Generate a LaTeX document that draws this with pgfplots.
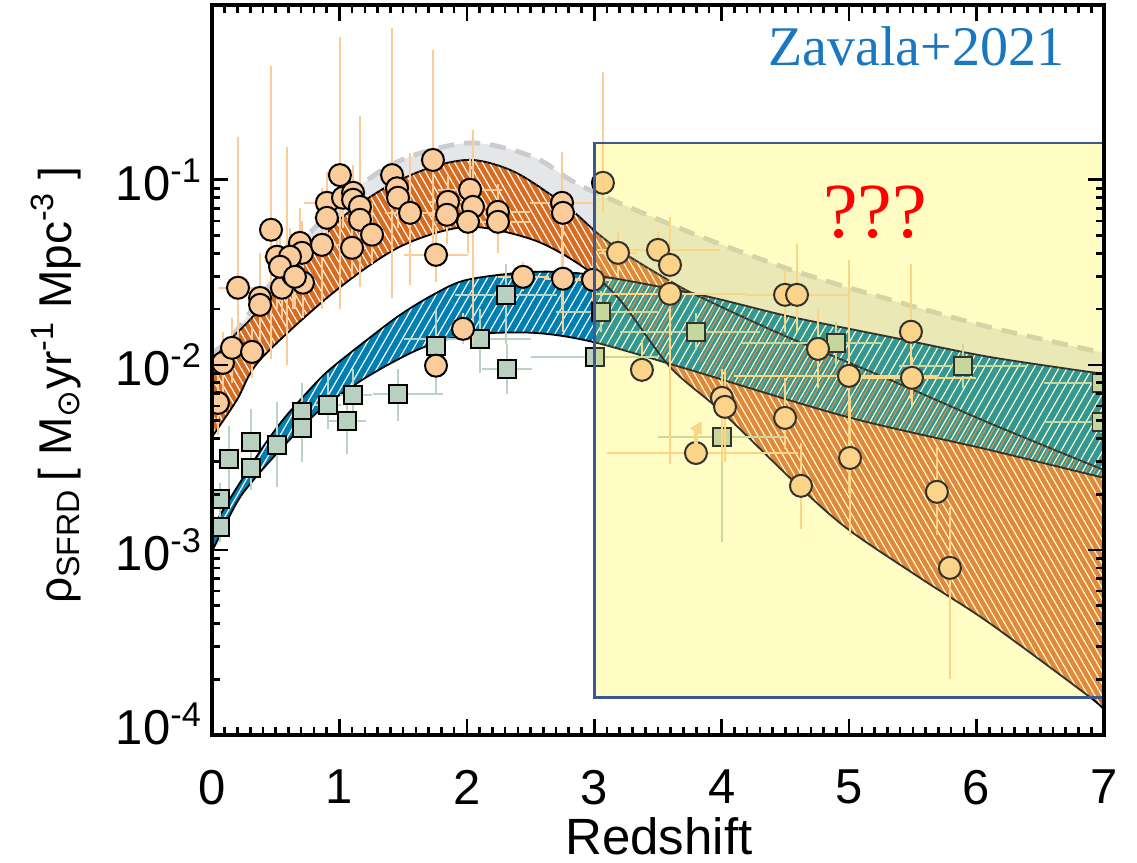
\documentclass[border=0pt]{standalone}
\usepackage{fontspec}
\setmainfont{Liberation Sans}
\newfontfamily\timesfont{Liberation Serif}
\newfontfamily\symbfont{DejaVu Sans}
\usepackage{pgfplots}
\pgfplotsset{compat=1.18}
\usepackage{pgfplotstable}
\usepgfplotslibrary{fillbetween}
\usetikzlibrary{patterns.meta}

\definecolor{bandorange}{RGB}{216,108,32}
\definecolor{bandblue}{RGB}{0,128,178}
\definecolor{bandgrey}{RGB}{229,230,232}
\definecolor{dashgrey}{RGB}{204,204,208}
\definecolor{peach}{RGB}{250,204,156}
\definecolor{peacherr}{RGB}{250,205,152}
\definecolor{sage}{RGB}{184,208,192}
\definecolor{sageerr}{RGB}{186,211,195}
\definecolor{boxyellow}{RGB}{255,253,188}
\definecolor{boxtint}{RGB}{255,253,225}
\definecolor{boxblue}{RGB}{58,88,150}
\definecolor{zavblue}{RGB}{26,118,190}

% Model envelopes (redshift, SFRD)
\pgfplotstableread{
z y
0    0.0118
0.165 0.0145
0.77 0.0518
1.37 0.117
2.0  0.158
2.52 0.133
2.91 0.0917
3.75 0.052
4.54 0.0327
5.32 0.0225
6.1  0.016
7    0.0116
}\greyU
\pgfplotstableread{
z y
0    0.0100
0.1  0.0128
0.28 0.0170
0.47 0.0239
0.71 0.0360
1.0  0.0608
1.37 0.0917
1.73 0.1175
2.05 0.128
2.39 0.109
2.79 0.0714
3.02 0.0518
3.23 0.0403
3.62 0.0277
3.83 0.0233
4.46 0.0147
5.32 0.0083
6.1  0.00485
7    0.0027
}\orangeU
\pgfplotstableread{
z y
0    0.00408
0.196 0.00647
0.377 0.01064
0.95 0.0245
1.475 0.0435
2.0  0.0557
2.52 0.0474
2.91 0.0339
3.2  0.0225
3.594 0.00975
4.01 0.0055
4.61 0.00219
5.0  0.00128
5.58 0.000689
6.1  0.000403
6.89 0.00016
7    0.000136
}\orangeL
\pgfplotstableread{
z y
0    0.00128
0.086 0.00164
0.243 0.00245
0.4  0.0036
0.557 0.00505
0.714 0.00671
0.902 0.00916
1.216 0.01365
1.475 0.0186
1.734 0.0239
2.0  0.0288
2.52 0.0318
2.99 0.0306
3.83 0.0239
4.54 0.0182
5.32 0.01416
6.1  0.01104
7    0.00893
}\blueU
\pgfplotstableread{
z y
0    0.00098
0.1  0.00135
0.243 0.00203
0.534 0.00347
0.848 0.00571
1.216 0.00861
1.63 0.0122
2.0  0.0145
2.52 0.0149
2.99 0.0133
3.75 0.0094
4.98 0.00524
6.1  0.00347
7    0.00245
}\blueL

% UV/optical estimates
\pgfplotstableread{
z y zm zp ylo yhi
0.047 0.00623 0.04 0.05 0.0042 0.0090
0.086 0.01025 0.05 0.05 0.0070 0.0150
0.157 0.01236 0.05 0.05 0.0080 0.0180
0.314 0.01175 0.05 0.10 0.0085 0.0160
0.204 0.0261 0.16 0.18 0.0110 0.170
0.463 0.0537 0.05 0.05 0.0107 0.41
0.377 0.0230 0.08 0.08 0.0140 0.040
0.377 0.0211 0.08 0.08 0.0120 0.035
0.51 0.0384 0.10 0.10 0.020 0.060
0.549 0.0261 0.05 0.05 0.018 0.040
0.589 0.0335 0.08 0.08 0.010 0.150
0.636 0.0306 0.05 0.05 0.020 0.045
0.69 0.0456 0.10 0.10 0.030 0.070
0.706 0.0403 0.10 0.10 0.028 0.060
0.714 0.0278 0.05 0.05 0.018 0.040
0.612 0.0384 0.05 0.05 0.025 0.055
0.534 0.0339 0.05 0.05 0.022 0.050
0.651 0.0299 0.05 0.05 0.020 0.045
0.863 0.0445 0.15 0.15 0.020 0.090
0.902 0.0751 0.18 0.18 0.050 0.110
0.902 0.0623 0.10 0.10 0.040 0.090
1.004 0.106 0.08 0.08 0.020 0.59
1.028 0.080 0.15 0.15 0.055 0.115
1.099 0.0429 0.10 0.10 0.030 0.060
1.107 0.0851 0.10 0.10 0.060 0.120
1.107 0.078 0.10 0.10 0.055 0.110
1.161 0.0714 0.10 0.10 0.0263 0.22
1.161 0.0608 0.10 0.10 0.045 0.085
1.256 0.0505 0.10 0.10 0.035 0.075
1.413 0.106 0.10 0.10 0.023 0.66
1.452 0.090 0.10 0.10 0.065 0.125
1.46 0.080 0.10 0.10 0.055 0.115
1.554 0.0663 0.20 0.20 0.027 0.14
1.734 0.128 0.10 0.10 0.034 0.50
1.758 0.0393 0.25 0.25 0.028 0.055
1.758 0.0099 0.05 0.05 0.0085 0.0115
1.852 0.076 0.15 0.15 0.055 0.105
1.844 0.0647 0.15 0.15 0.045 0.090
2.025 0.0883 0.25 0.25 0.060 0.130
2.048 0.0714 0.25 0.25 0.013 0.186
2.009 0.0593 0.25 0.25 0.040 0.085
2.244 0.0671 0.25 0.25 0.045 0.095
2.244 0.0593 0.25 0.25 0.040 0.085
2.441 0.0299 0.20 0.20 0.025 0.036
2.747 0.0751 0.25 0.25 0.0206 0.142
2.754 0.0663 0.10 0.10 0.050 0.085
2.754 0.0292 0.15 0.15 0.0150 0.045
2.99 0.0288 0.15 0.15 0.022 0.038
1.97 0.01566 0.05 0.05 0.013 0.019
3.068 0.0963 0.05 0.05 0.066 0.38
3.186 0.0403 0.15 0.15 0.030 0.052
3.5 0.0418 0.48 0.49 0.034 0.052
3.594 0.0347 0.10 0.10 0.028 0.044
3.594 0.0242 0.60 0.60 0.0029 0.063
3.374 0.0094 0.05 0.05 0.0080 0.0137
4.497 0.0239 0.05 0.05 0.015 0.033
4.591 0.0239 0.40 0.40 0.015 0.045
4.756 0.0122 0.05 0.05 0.0075 0.020
4.999 0.00872 0.90 0.70 0.00203 0.037
5.485 0.0151 0.05 0.05 0.0065 0.035
5.493 0.00851 0.50 0.50 0.006 0.011
4.002 0.00663 0.05 0.05 0.0030 0.0095
4.026 0.00593 0.05 0.05 0.0030 0.0095
4.497 0.00517 0.05 0.05 0.0035 0.0085
3.798 0.00334 0.70 0.80 0.0030 0.0037
5.007 0.00314 0.05 0.05 0.0012 0.0065
4.622 0.00222 0.05 0.05 0.0013 0.0038
5.689 0.00206 0.05 0.05 0.0012 0.0036
5.791 0.0008 0.05 0.05 0.0002 0.0017
}\circles

% Dust-obscured (IR/mm) estimates
\pgfplotstableread{
z y zm zp ylo yhi
0.063 0.00189 0.05 0.05 0.0016 0.0023
0.063 0.00133 0.05 0.05 0.0011 0.0016
0.133 0.0031 0.05 0.05 0.0019 0.0047
0.306 0.00384 0.05 0.05 0.0026 0.0058
0.306 0.00277 0.05 0.05 0.0021 0.0037
0.51 0.0037 0.05 0.05 0.0022 0.0063
0.706 0.00557 0.05 0.05 0.0040 0.0080
0.706 0.00456 0.05 0.05 0.0030 0.0065
0.91 0.00608 0.10 0.10 0.0045 0.0090
1.107 0.00689 0.10 0.15 0.0050 0.0095
1.059 0.00498 0.15 0.15 0.0033 0.0070
1.46 0.00697 0.20 0.35 0.0050 0.0095
1.758 0.01267 0.05 0.05 0.0070 0.0200
2.103 0.0138 0.60 0.40 0.0090 0.0200
2.307 0.0239 0.40 0.40 0.0130 0.0350
2.315 0.00951 0.20 0.20 0.0070 0.0130
3.053 0.0193 0.35 0.45 0.0150 0.0250
3.006 0.01104 0.50 0.50 0.0085 0.0140
3.798 0.0151 0.60 0.50 0.0120 0.0190
4.897 0.01315 0.75 0.35 0.0100 0.0170
5.893 0.00988 0.50 0.50 0.0075 0.0130
6.98 0.0080 0.45 0.30 0.0070 0.0092
6.98 0.00492 0.45 0.30 0.0043 0.0056
4.002 0.00408 0.50 0.50 0.0011 0.0060
}\squares

\begin{document}
\begin{tikzpicture}
\begin{axis}[
  at={(0,0)}, anchor=south west,
  scale only axis, width=446pt, height=365pt,
  xmin=0, xmax=7, ymode=log, ymin=1e-4, ymax=0.88,
  axis on top, clip marker paths=true,
  axis line style={line width=1.7pt},
  tick style={black, line width=1.3pt},
  major tick length=8pt, minor tick length=4pt,
  tick align=inside,
  xtick={0,...,7}, minor x tick num=9,
  ytick={1e-4,1e-3,1e-2,1e-1},
  yticklabels={\raisebox{11pt}{10\textsuperscript{-4}},10\textsuperscript{-3},10\textsuperscript{-2},10\textsuperscript{-1}},
  /pgf/number format/assume math mode=true,
  tick label style={font=\fontsize{24.5}{26}\selectfont},
  xticklabel style={yshift=-14pt},
  yticklabel style={xshift=-1.5pt},
  xlabel={Redshift},
  xlabel style={at={(axis description cs:0.501,-0.164)}, anchor=base, inner sep=0pt, font=\fontsize{25.5}{27}\selectfont},
  ylabel={ρ\textsubscript{SFRD}\,[ M\textsubscript{\symbfont ⊙}yr\textsuperscript{-1} Mpc\textsuperscript{-3} ]},
  ylabel style={at={(axis description cs:-0.157,0.479)}, anchor=base, font=\fontsize{23}{26}\selectfont},
]
% envelope paths
\addplot[draw=none, name path=gU, smooth] table {\greyU};
\addplot[draw=none, name path=oU, smooth] table {\orangeU};
\addplot[draw=none, name path=oL, smooth] table {\orangeL};
\addplot[draw=none, name path=bU, smooth] table {\blueU};
\addplot[draw=none, name path=bL, smooth] table {\blueL};

% total (grey) envelope
\addplot[fill=bandgrey, draw=none] fill between[of=gU and oL];
\addplot[dashgrey, line width=2.4pt, dash pattern=on 8pt off 5pt, smooth] table {\greyU};

% unobscured band
\addplot[fill=bandorange, draw=none] fill between[of=oU and oL];
\addplot[draw=none, pattern={Lines[angle=120,distance=3pt,line width=0.6pt]}, pattern color=white] fill between[of=oU and oL];
\addplot[black, line width=0.9pt, smooth] table {\orangeU};
\addplot[black, line width=0.9pt, smooth] table {\orangeL};

% obscured band
\addplot[fill=bandblue, draw=none] fill between[of=bU and bL];
\addplot[draw=none, pattern={Lines[angle=60,distance=3.6pt,line width=0.6pt]}, pattern color=white] fill between[of=bU and bL];
\addplot[draw=none, pattern={Lines[angle=60,distance=3.6pt,line width=0.6pt,xshift=1.8pt]}, pattern color=bandorange]
  fill between[of=oU and bL, soft clip={(axis cs:3.83,1e-5) rectangle (axis cs:7,1)}];
\addplot[draw=none, pattern={Lines[angle=60,distance=3.6pt,line width=0.6pt,xshift=1.8pt]}, pattern color=bandorange]
  fill between[of=bU and oL, soft clip={(axis cs:3.05,1e-5) rectangle (axis cs:3.6,1)}];
\addplot[black, line width=0.9pt, smooth] table {\blueU};
\addplot[black, line width=0.9pt, smooth] table {\blueL};
\addplot[black!75, line width=0.7pt, dotted, smooth] table {\orangeU};

% obscured data
\addplot[only marks, mark=square*, mark size=4.5pt,
  mark options={fill=sage, draw=black, line width=0.8pt},
  error bars/.cd, x dir=both, x explicit, y dir=both, y explicit,
  error bar style={sageerr, line width=1pt}, error mark=none]
  table[x=z, y=y, x error minus=zm, x error plus=zp,
        y error minus expr=\thisrow{y}-\thisrow{ylo},
        y error plus expr=\thisrow{yhi}-\thisrow{y}] {\squares};

% unobscured data
\addplot[only marks, mark=*, mark size=5.5pt,
  mark options={fill=peach, draw=black, line width=1pt},
  error bars/.cd, x dir=both, x explicit, y dir=both, y explicit,
  error bar style={peacherr, line width=1.2pt}, error mark=none]
  table[x=z, y=y, x error minus=zm, x error plus=zp,
        y error minus expr=\thisrow{y}-\thisrow{ylo},
        y error plus expr=\thisrow{yhi}-\thisrow{y}] {\circles};

% lower limit
\addplot[draw=none, mark=none,
  error bars/.cd, y dir=plus, y explicit,
  error bar style={peacherr, line width=1.6pt},
  error mark=triangle*, error mark options={peacherr, fill=peacherr, mark size=3.5pt}]
  coordinates {(3.798,0.00334) +- (0,0.0012)};

% high-redshift window
\addplot[draw=none, fill=boxyellow, blend mode=multiply]
  coordinates {(3.0,1.6e-4) (3.0,0.158) (7,0.158) (7,1.6e-4)} -- cycle;
\addplot[draw=none, fill=boxtint, fill opacity=0.2]
  coordinates {(3.0,1.6e-4) (3.0,0.158) (7,0.158) (7,1.6e-4)} -- cycle;
\addplot[draw=boxblue, line width=1.3pt, mark=none]
  coordinates {(3.0,1.6e-4) (3.0,0.158) (7,0.158) (7,1.6e-4)} -- cycle;

\node[font=\timesfont\fontsize{28}{30}\selectfont, text=zavblue] at (axis cs:5.525,0.524) {Zavala+2021};
\node[font=\timesfont\fontsize{39}{40}\selectfont, text=red] at (axis cs:5.203,0.0672) {???};
\end{axis}
\pgfresetboundingbox
\path[use as bounding box] (-106pt,-64pt) rectangle (462.5pt,367.5pt);
\end{tikzpicture}
\end{document}
